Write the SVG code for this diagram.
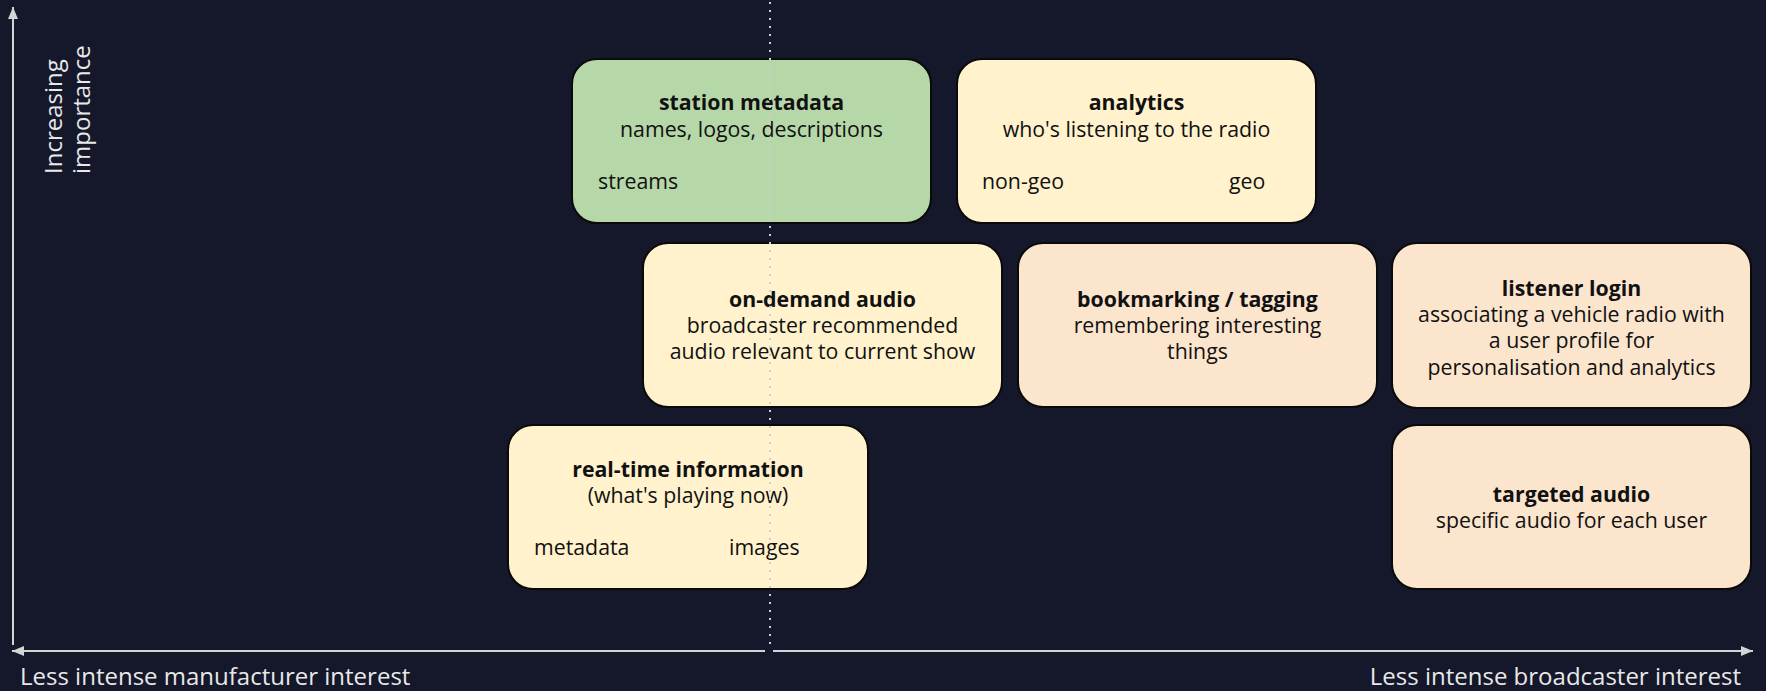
<svg xmlns="http://www.w3.org/2000/svg" width="1766" height="691" viewBox="0 0 1766 691">
<style>
.bg{fill:#15172a}
.box{stroke:#0a0a0a;stroke-width:2}
.green{fill:#b6d7a8}
.yellow{fill:#fff2cc}
.peach{fill:#fce5cd}
.t{font-family:"Open Sans","Noto Sans",sans-serif;font-size:21.3px;fill:#111}
.c{text-anchor:middle}
.b{font-weight:bold}
.axis{stroke:#d4d4d4;stroke-width:2;fill:none}
.ax{font-family:"Open Sans","Noto Sans",sans-serif;font-size:24px;fill:#e8e8e8}
.dots{stroke:#cfcfcf;stroke-width:2;stroke-dasharray:2 6;fill:none}
</style>
<defs>
<marker id="ah" viewBox="0 0 12 10" refX="12" refY="5" markerWidth="12" markerHeight="10" markerUnits="userSpaceOnUse" orient="auto">
<path d="M0,0 L12,5 L0,10 z" fill="#d4d4d4"/>
</marker>
</defs>
<rect class="bg" x="0" y="0" width="1766" height="691"/>

<g id="axes">
<line class="axis" x1="13" y1="645" x2="13" y2="7" marker-end="url(#ah)"/>
<line class="axis" x1="765" y1="651" x2="12" y2="651" marker-end="url(#ah)"/>
<line class="axis" x1="773" y1="651" x2="1753" y2="651" marker-end="url(#ah)"/>
<text class="ax" transform="translate(62,174) rotate(-90)">Increasing</text>
<text class="ax" transform="translate(90,174) rotate(-90)">importance</text>
<text class="ax" x="20" y="685">Less intense manufacturer interest</text>
<text class="ax" x="1741" y="685" text-anchor="end">Less intense broadcaster interest</text>
</g>

<g id="station-metadata">
<rect class="box green" x="572" y="59" width="359" height="164" rx="25"/>
<text class="t c b" x="751.5" y="110">station metadata</text>
<text class="t c" x="751.5" y="137">names, logos, descriptions</text>
<text class="t" x="598" y="189">streams</text>
</g>

<g id="analytics">
<rect class="box yellow" x="957" y="59" width="359" height="164" rx="25"/>
<text class="t c b" x="1136.5" y="110">analytics</text>
<text class="t c" x="1136.5" y="137">who's listening to the radio</text>
<text class="t" x="982" y="189">non-geo</text>
<text class="t" x="1229" y="189">geo</text>
</g>

<g id="on-demand-audio">
<rect class="box yellow" x="643" y="243" width="359" height="164" rx="25"/>
<text class="t c b" x="822.5" y="307">on-demand audio</text>
<text class="t c" x="822.5" y="333">broadcaster recommended</text>
<text class="t c" x="822.5" y="359">audio relevant to current show</text>
</g>

<g id="bookmarking">
<rect class="box peach" x="1018" y="243" width="359" height="164" rx="25"/>
<text class="t c b" x="1197.5" y="307">bookmarking / tagging</text>
<text class="t c" x="1197.5" y="333">remembering interesting</text>
<text class="t c" x="1197.5" y="359">things</text>
</g>

<g id="listener-login">
<rect class="box peach" x="1392" y="243" width="359" height="165" rx="25"/>
<text class="t c b" x="1571.5" y="296">listener login</text>
<text class="t c" x="1571.5" y="322">associating a vehicle radio with</text>
<text class="t c" x="1571.5" y="348">a user profile for</text>
<text class="t c" x="1571.5" y="375">personalisation and analytics</text>
</g>

<g id="real-time-information">
<rect class="box yellow" x="508" y="425" width="360" height="164" rx="25"/>
<text class="t c b" x="688" y="477">real-time information</text>
<text class="t c" x="688" y="503">(what's playing now)</text>
<text class="t" x="534" y="555">metadata</text>
<text class="t" x="729" y="555">images</text>
</g>

<g id="targeted-audio">
<rect class="box peach" x="1392" y="425" width="359" height="164" rx="25"/>
<text class="t c b" x="1571.5" y="502">targeted audio</text>
<text class="t c" x="1571.5" y="528">specific audio for each user</text>
</g>

<g id="connectors">
<line class="dots" x1="770" y1="2" x2="770" y2="648"/>
</g>
</svg>
